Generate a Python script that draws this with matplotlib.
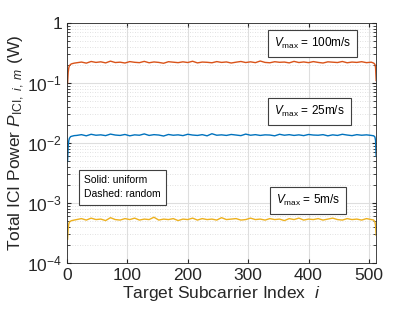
import numpy as np
import matplotlib.pyplot as plt
from matplotlib.ticker import FixedLocator, LogLocator, NullFormatter

plt.rcParams['font.family'] = ['Liberation Sans', 'DejaVu Sans']
plt.rcParams['mathtext.fontset'] = 'custom'
plt.rcParams['mathtext.rm'] = 'Liberation Sans'
plt.rcParams['mathtext.it'] = 'Liberation Sans:italic'

# subcarrier indices where the curves are sampled
idx = [1, 2, 3, 4, 6, 8, 12] + list(range(16, 505, 8)) + [508, 510, 511, 512]

ici_100 = [0.10, 0.15, 0.18, 0.195, 0.205, 0.21, 0.215,
           0.218, 0.224, 0.215, 0.229, 0.221, 0.226, 0.217, 0.232, 0.220, 0.223,
           0.216, 0.228, 0.222, 0.219, 0.230, 0.218, 0.225, 0.221, 0.214, 0.227,
           0.223, 0.219, 0.226, 0.220, 0.231, 0.217, 0.224, 0.222, 0.218, 0.228,
           0.221, 0.225, 0.216, 0.223, 0.229, 0.220, 0.226, 0.219, 0.233, 0.221,
           0.218, 0.227, 0.222, 0.224, 0.217, 0.230, 0.220, 0.225, 0.219, 0.228,
           0.221, 0.216, 0.226, 0.223, 0.220, 0.229, 0.218, 0.224, 0.221, 0.227,
           0.219, 0.223,
           0.215, 0.205, 0.18, 0.11]

ici_25 = [0.005, 0.009, 0.011, 0.012, 0.0128, 0.013, 0.0133,
          0.0134, 0.0138, 0.0132, 0.0140, 0.0135, 0.0137, 0.0133, 0.0141, 0.0136, 0.0134,
          0.0139, 0.0132, 0.0137, 0.0135, 0.0142, 0.0134, 0.0138, 0.0136, 0.0131, 0.0139,
          0.0135, 0.0137, 0.0133, 0.0140, 0.0136, 0.0134, 0.0138, 0.0132, 0.0143, 0.0135,
          0.0137, 0.0134, 0.0139, 0.0136, 0.0133, 0.0141, 0.0135, 0.0138, 0.0134, 0.0137,
          0.0136, 0.0132, 0.0140, 0.0135, 0.0138, 0.0134, 0.0137, 0.0133, 0.0139, 0.0136,
          0.0135, 0.0138, 0.0132, 0.0137, 0.0134, 0.0140, 0.0136, 0.0133, 0.0138, 0.0135,
          0.0137, 0.0134,
          0.0132, 0.0126, 0.0110, 0.0060]

# values in units of 1e-4 W
ici_5_e4 = [2.5, 3.8, 4.5, 4.8, 5.0, 5.1, 5.2,
            5.3, 5.5, 5.2, 5.6, 5.3, 5.4, 5.1, 5.7, 5.3, 5.2,
            5.5, 5.3, 5.6, 5.2, 5.4, 5.3, 5.8, 5.2, 5.4, 5.3,
            5.5, 5.1, 5.4, 5.3, 5.6, 5.2, 5.5, 5.3, 5.4, 5.2,
            5.7, 5.3, 5.4, 5.5, 5.2, 5.3, 5.6, 5.3, 5.4, 5.2,
            5.5, 5.3, 5.4, 5.1, 5.5, 5.3, 5.6, 5.2, 5.4, 5.3,
            5.5, 5.2, 5.4, 5.6, 5.3, 5.2, 5.5, 5.3, 5.4, 5.2,
            5.5, 5.3,
            5.2, 4.8, 4.2, 2.9]
ici_5 = [v * 1e-4 for v in ici_5_e4]

fig = plt.figure(figsize=(4.15, 3.12), dpi=100)
ax = fig.add_axes([0.1614, 0.157, 0.745, 0.769])

ax.semilogy(idx, ici_100, color='#D95319', lw=1.0)
ax.semilogy(idx, ici_25, color='#0072BD', lw=1.0)
ax.semilogy(idx, ici_5, color='#EDB120', lw=1.0)

ax.set_xlim(0, 512)
ax.set_ylim(1e-4, 1)
ax.set_xticks([0, 100, 200, 300, 400, 500])
ax.yaxis.set_major_locator(FixedLocator([1e-4, 1e-3, 1e-2, 1e-1, 1]))
ax.set_yticklabels(['$10^{-4}$', '$10^{-3}$', '$10^{-2}$', '$10^{-1}$', '1'])
ax.yaxis.set_minor_locator(LogLocator(base=10, subs=np.arange(2, 10), numticks=20))
ax.yaxis.set_minor_formatter(NullFormatter())

ax.grid(True, which='major', color='#dedede', lw=0.8)
ax.grid(True, which='minor', axis='y', color='#d8d8d8', lw=0.6, ls=(0, (1, 2)))
ax.tick_params(which='both', direction='in', top=True, right=True,
               labelsize=12.5, colors='#262626', length=3)
ax.tick_params(which='minor', length=2)
for s in ax.spines.values():
    s.set_color('#262626')
    s.set_linewidth(0.6)

ax.set_xlabel('Target Subcarrier Index  $i$', fontsize=12.5, color='#262626', labelpad=1)
ax.set_ylabel('Total ICI Power $P_{\\mathrm{ICI},\\ i,\\ m}$ (W)', fontsize=12.5,
              color='#262626', labelpad=0)

box = dict(boxstyle='square,pad=0.5', fc='white', ec='#404040', lw=0.8)
ax.text(406, 0.455, '$V_{\\mathrm{max}}$ = 100m/s', fontsize=8.5, ha='center', va='center', bbox=box)
ax.text(402, 0.0335, '$V_{\\mathrm{max}}$ = 25m/s', fontsize=8.5, ha='center', va='center', bbox=box)
ax.text(399, 0.00112, '$V_{\\mathrm{max}}$ = 5m/s', fontsize=8.5, ha='center', va='center', bbox=box)
ax.text(28, 0.00182, 'Solid: uniform\nDashed: random', fontsize=7.5, ha='left', va='center',
        linespacing=1.5, bbox=box)

fig.savefig('out.png', dpi=100)
